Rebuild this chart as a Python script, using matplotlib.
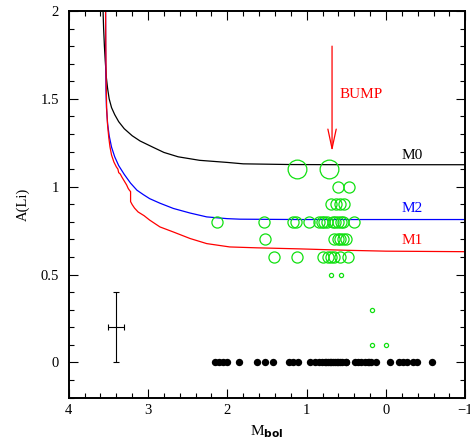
import matplotlib
matplotlib.use("Agg")
import matplotlib.pyplot as plt
from matplotlib.ticker import MultipleLocator

# model curves (Mbol, A(Li))
m0_mbol = [3.567, 3.56, 3.55, 3.54, 3.525, 3.51, 3.49, 3.46, 3.42, 3.37, 3.30, 3.20, 3.10, 2.94, 2.80, 2.62,
           2.35, 2.0, 1.8, 1.2, 0.5, -1.0]
m0_ali = [2.0, 1.9, 1.8, 1.72, 1.62, 1.56, 1.50, 1.45, 1.41, 1.37, 1.33, 1.29, 1.26, 1.225, 1.195, 1.17,
          1.15, 1.138, 1.13, 1.126, 1.125, 1.125]

m2_mbol = [3.535, 3.535, 3.533, 3.53, 3.524, 3.51, 3.49, 3.46, 3.42, 3.37, 3.30, 3.22, 3.14, 3.06, 2.98, 2.85,
           2.68, 2.47, 2.26, 2.0, 1.84, 1.09, -1.0]
m2_ali = [2.0, 1.8, 1.68, 1.55, 1.45, 1.36, 1.29, 1.225, 1.17, 1.12, 1.07, 1.02, 0.98, 0.955, 0.932, 0.906,
          0.876, 0.85, 0.828, 0.818, 0.815, 0.813, 0.813]

m1_mbol = [3.535, 3.532, 3.528, 3.522, 3.51, 3.495, 3.48, 3.46, 3.43, 3.40, 3.38, 3.37, 3.35, 3.33, 3.31,
           3.29, 3.27, 3.25, 3.235, 3.22, 3.22, 3.20, 3.17, 3.125, 3.05, 2.98, 2.85, 2.68, 2.47, 2.26,
           1.97, 1.63, 1.09, 0.5, 0.0, -1.0]
m1_ali = [2.0, 1.8, 1.6, 1.45, 1.35, 1.28, 1.227, 1.18, 1.14, 1.113, 1.10, 1.08, 1.072, 1.055, 1.04,
          1.025, 1.01, 0.99, 0.98, 0.972, 0.915, 0.898, 0.878, 0.856, 0.835, 0.81, 0.771, 0.742, 0.705, 0.676,
          0.657, 0.652, 0.646, 0.638, 0.633, 0.63]

# Li detections, grouped by symbol size
big_mbol = [1.12, 0.72]
big_ali = [1.1, 1.1]

mid_mbol = [0.61, 0.47,
            0.69, 0.635, 0.58, 0.525,
            2.13, 1.535, 1.17, 1.13, 0.97, 0.85, 0.81, 0.78, 0.745, 0.67, 0.64, 0.60, 0.57, 0.54, 0.405,
            1.53, 0.65, 0.61, 0.58, 0.54, 0.50,
            1.41, 1.126, 0.79, 0.73, 0.69, 0.65, 0.58, 0.475]
mid_ali = [1.0, 1.0,
           0.9, 0.9, 0.9, 0.9,
           0.8, 0.8, 0.8, 0.8, 0.8, 0.8, 0.8, 0.8, 0.8, 0.8, 0.8, 0.8, 0.8, 0.8, 0.8,
           0.7, 0.7, 0.7, 0.7, 0.7, 0.7,
           0.6, 0.6, 0.6, 0.6, 0.6, 0.6, 0.6, 0.6]

small_mbol = [0.69, 0.57, 0.175, 0.175, 0.0]
small_ali = [0.5, 0.5, 0.3, 0.1, 0.1]

# upper limits / non-detections plotted at A(Li)=0
zero_mbol = [2.15, 2.11, 2.05, 2.0, 1.85, 1.63, 1.53, 1.42, 1.22, 1.17, 1.11, 0.96, 0.89, 0.85, 0.81, 0.77,
             0.75, 0.73, 0.71, 0.69, 0.67, 0.64, 0.62, 0.60, 0.58, 0.56, 0.51, 0.50, 0.39, 0.35, 0.31, 0.27,
             0.23, 0.21, 0.19, 0.12, -0.05, -0.16, -0.21, -0.26, -0.34, -0.39, -0.58]
zero_ali = [0.0] * len(zero_mbol)

bump_mbol = 0.68

plt.rcParams['font.family'] = ['Liberation Serif', 'DejaVu Serif']
plt.rcParams['mathtext.fontset'] = 'custom'
plt.rcParams['mathtext.rm'] = 'Liberation Serif'
plt.rcParams['mathtext.bf'] = 'DejaVu Sans:bold'

fig = plt.figure(figsize=(4.7, 4.41), dpi=100)
ax = fig.add_axes([0.1462, 0.0986, 0.8438, 0.8765])

ax.plot(m0_mbol, m0_ali, color='black', lw=0.9)
ax.plot(m2_mbol, m2_ali, color='blue', lw=0.9)
ax.plot(m1_mbol, m1_ali, color='red', lw=0.9)

green = '#11e011'
ax.plot(big_mbol, big_ali, 'o', ms=13.5, mfc='none', mec=green, mew=0.9)
ax.plot(mid_mbol, mid_ali, 'o', ms=8, mfc='none', mec=green, mew=0.9)
ax.plot(small_mbol, small_ali, 'o', ms=3, mfc='none', mec=green, mew=0.9)
ax.plot(zero_mbol, zero_ali, 'o', ms=5.3, color='black', mew=0)

# typical error bar
ax.errorbar([3.4], [0.2], xerr=0.1, yerr=0.2, color='black', lw=0.8, capsize=2.5, capthick=0.8)

ax.annotate('', xy=(bump_mbol, 1.2), xytext=(bump_mbol, 1.8),
            arrowprops=dict(arrowstyle='->,head_length=1.4,head_width=0.3', color='red', lw=0.9,
                            shrinkA=0, shrinkB=0, mutation_scale=10))
ax.text(0.59, 1.525, 'BUMP', color='red', fontsize=11, ha='left', va='center')
ax.text(-0.33, 1.175, 'M0', color='black', fontsize=11, ha='center', va='center')
ax.text(-0.33, 0.876, 'M2', color='blue', fontsize=11, ha='center', va='center')
ax.text(-0.33, 0.695, 'M1', color='red', fontsize=11, ha='center', va='center')

ax.set_xlim(4, -1)
ax.set_ylim(-0.2, 2)
ax.xaxis.set_minor_locator(MultipleLocator(0.2))
ax.yaxis.set_minor_locator(MultipleLocator(0.1))
ax.set_xticks([4, 3, 2, 1, 0, -1])
ax.set_xticklabels(['4', '3', '2', '1', '0', '\u22121'])
ax.set_yticks([0, 0.5, 1, 1.5, 2])
ax.set_yticklabels(['0', '0.5', '1', '1.5', '2'])

ax.tick_params(which='both', direction='in', top=True, right=True, labelsize=10.5, width=0.8)
ax.tick_params(which='major', length=6.5)
ax.tick_params(which='minor', length=3.5)
ax.tick_params(axis='x', pad=5)
ax.tick_params(axis='y', pad=7)
for s in ax.spines.values():
    s.set_linewidth(1.4)

ax.set_xlabel(r'M$_{\mathbf{bol}}$', fontsize=11, labelpad=4)
ax.set_ylabel('A(Li)', fontsize=10.5, labelpad=8)

fig.savefig('out.png', dpi=100)
